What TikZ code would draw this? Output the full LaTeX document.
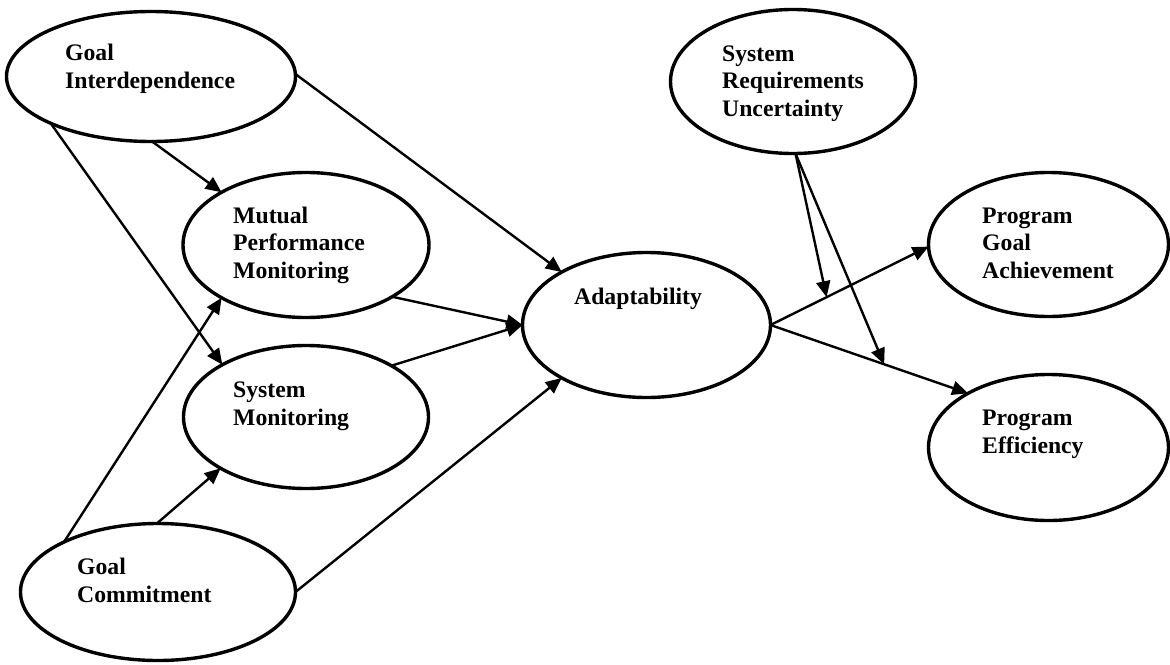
\documentclass[tikz,border=0pt]{standalone}
\usepackage{fontspec}
\setmainfont{Liberation Serif}
\usetikzlibrary{shapes.geometric,arrows.meta}
\begin{document}
\begin{tikzpicture}[x=1pt,y=-1pt,
  blob/.style={ellipse,draw,line width=3.4pt,inner sep=0pt,outer sep=0pt},
  lbl/.style={anchor=base west,align=left,inner sep=0pt,font=\bfseries\fontsize{23.7}{27.5}\selectfont},
  conn/.style={line width=2.4pt,-{Triangle[length=16pt,width=14pt]}}]
\useasboundingbox (0,0) rectangle (1170,664);
% ellipses
\node[blob,minimum width=289pt,minimum height=130pt] (gi)  at (151,76.5) {};
\node[blob,minimum width=246pt,minimum height=145pt] (mpm) at (306,245) {};
\node[blob,minimum width=245pt,minimum height=143pt] (sm)  at (306,417) {};
\node[blob,minimum width=275pt,minimum height=137pt] (gc)  at (158,592) {};
\node[blob,minimum width=248pt,minimum height=145pt] (ad)  at (646.5,325) {};
\node[blob,minimum width=245pt,minimum height=144pt] (sru) at (793,81.5) {};
\node[blob,minimum width=240pt,minimum height=144pt] (pga) at (1048.5,244.5) {};
\node[blob,minimum width=240pt,minimum height=146pt] (pe)  at (1048.5,447.5) {};
% labels (anchored at the baseline of the last line)
\node[lbl] (gi-t)  at (65,88)   {Goal\\Interdependence};
\node[lbl] (mpm-t) at (233,278) {Mutual\\Performance\\Monitoring};
\node[lbl] (sm-t)  at (233,425) {System\\Monitoring};
\node[lbl] (gc-t)  at (77,602)  {Goal\\Commitment};
\node[lbl] (ad-t)  at (574,304) {Adaptability};
\node[lbl] (sru-t) at (722,116) {System\\Requirements\\Uncertainty};
\node[lbl] (pga-t) at (982,278) {Program\\Goal\\Achievement};
\node[lbl] (pe-t)  at (982,453) {Program\\Efficiency};
% connectors
\draw[conn] (gi.1) -- (ad.148);
\draw[conn] (gi.-89) -- (mpm.148);
\draw[conn] (gi.205) -- (sm.148.5);
\draw[conn] (gc.152) -- (mpm.212);
\draw[conn] (gc.91) -- (sm.211.7);
\draw[conn] (gc.0) -- (ad.212);
\draw[conn] (mpm.-31.7) -- (ad.180.5);
\draw[conn] (sm.31.7) -- (ad.180);
\draw[conn] (ad.0) -- (pga.181) coordinate[pos=0.355] (m1);
\draw[conn] (ad.0) -- (pe.146.4) coordinate[pos=0.575] (m2);
\draw[conn] (sru.-88.5) -- (m1);
\draw[conn] (sru.-88.5) -- (m2);
\end{tikzpicture}
\end{document}
